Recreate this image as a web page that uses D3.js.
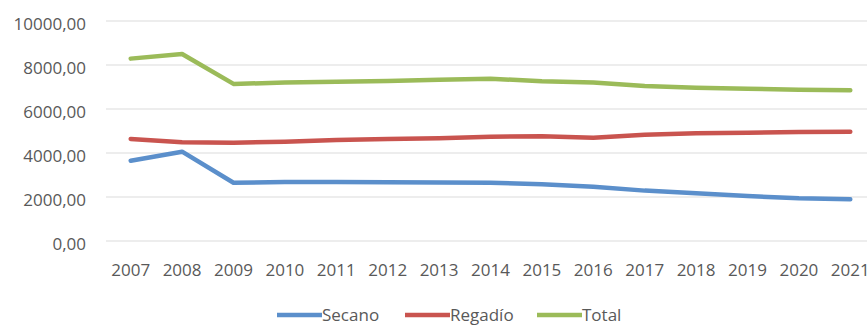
<!DOCTYPE html>
<html>
<head>
<meta charset="utf-8">
<script src="https://cdn.jsdelivr.net/npm/d3@7"></script>
<style>
  body { margin: 0; background: #fff; }
  text { font-family: "Open Sans", sans-serif; fill: #595959; }
</style>
</head>
<body>
<script>
// Data
var years = ["2007", "2008", "2009", "2010", "2011", "2012", "2013", "2014",
             "2015", "2016", "2017", "2018", "2019", "2020", "2021"];
var secano  = [3650, 4060, 2650, 2680, 2680, 2665, 2660, 2650, 2580, 2470, 2290, 2170, 2045, 1940, 1895];
var regadio = [4640, 4485, 4470, 4515, 4590, 4635, 4670, 4740, 4760, 4690, 4830, 4895, 4925, 4955, 4970];
var total   = [8290, 8500, 7140, 7200, 7240, 7270, 7330, 7380, 7260, 7200, 7045, 6970, 6920, 6880, 6850];
var yTicks = [0, 2000, 4000, 6000, 8000, 10000];
var seriesNames = ["Secano", "Regadío", "Total"];
var colors = ["#5b8fcb", "#c9544f", "#9bbb59"];

var svgWidth = 867;
var svgHeight = 325;

var svg = d3.select("body")
  .append("svg")
  .attr("width", svgWidth)
  .attr("height", svgHeight);

// Scales
var x = d3.scaleBand()
  .domain(years)
  .range([105, 876]);

var y = d3.scaleLinear()
  .domain([0, 10000])
  .range([241, 21]);

// Gridlines
svg.append("g")
  .selectAll("line")
  .data(yTicks)
  .enter()
  .append("line")
  .attr("x1", 106)
  .attr("x2", svgWidth)
  .attr("y1", d => y(d))
  .attr("y2", d => y(d))
  .attr("stroke", "#dcdcdc")
  .attr("stroke-width", 1.2);

// Y labels
svg.append("g")
  .selectAll("text")
  .data(yTicks)
  .enter()
  .append("text")
  .attr("x", 86)
  .attr("y", d => y(d) + 9)
  .attr("text-anchor", "end")
  .style("font-size", "17px")
  .text(d => d3.format(".2f")(d).replace(".", ","));

// X labels
svg.append("g")
  .selectAll("text")
  .data(years)
  .enter()
  .append("text")
  .attr("x", d => x(d) + x.bandwidth() / 2)
  .attr("y", 276)
  .attr("text-anchor", "middle")
  .style("font-size", "17px")
  .text(d => d);

// Lines
var line = d3.line()
  .x((d, i) => x(years[i]) + x.bandwidth() / 2)
  .y(d => y(d));

var allSeries = [secano, regadio, total];

svg.append("g")
  .selectAll("path")
  .data(allSeries)
  .enter()
  .append("path")
  .attr("d", d => line(d))
  .attr("fill", "none")
  .attr("stroke", (d, i) => colors[i])
  .attr("stroke-width", 4.5)
  .attr("stroke-linecap", "round")
  .attr("stroke-linejoin", "round");

// Legend
var legendX = [277, 405, 537];
var legend = svg.append("g")
  .selectAll("g")
  .data(seriesNames)
  .enter()
  .append("g")
  .attr("transform", (d, i) => `translate(${legendX[i]}, 315)`);

legend.append("line")
  .attr("x1", 0)
  .attr("x2", 45)
  .attr("stroke", (d, i) => colors[i])
  .attr("stroke-width", 4.5);

legend.append("text")
  .attr("x", 45)
  .attr("y", 6)
  .style("font-size", "17px")
  .text(d => d);
</script>
</body>
</html>
